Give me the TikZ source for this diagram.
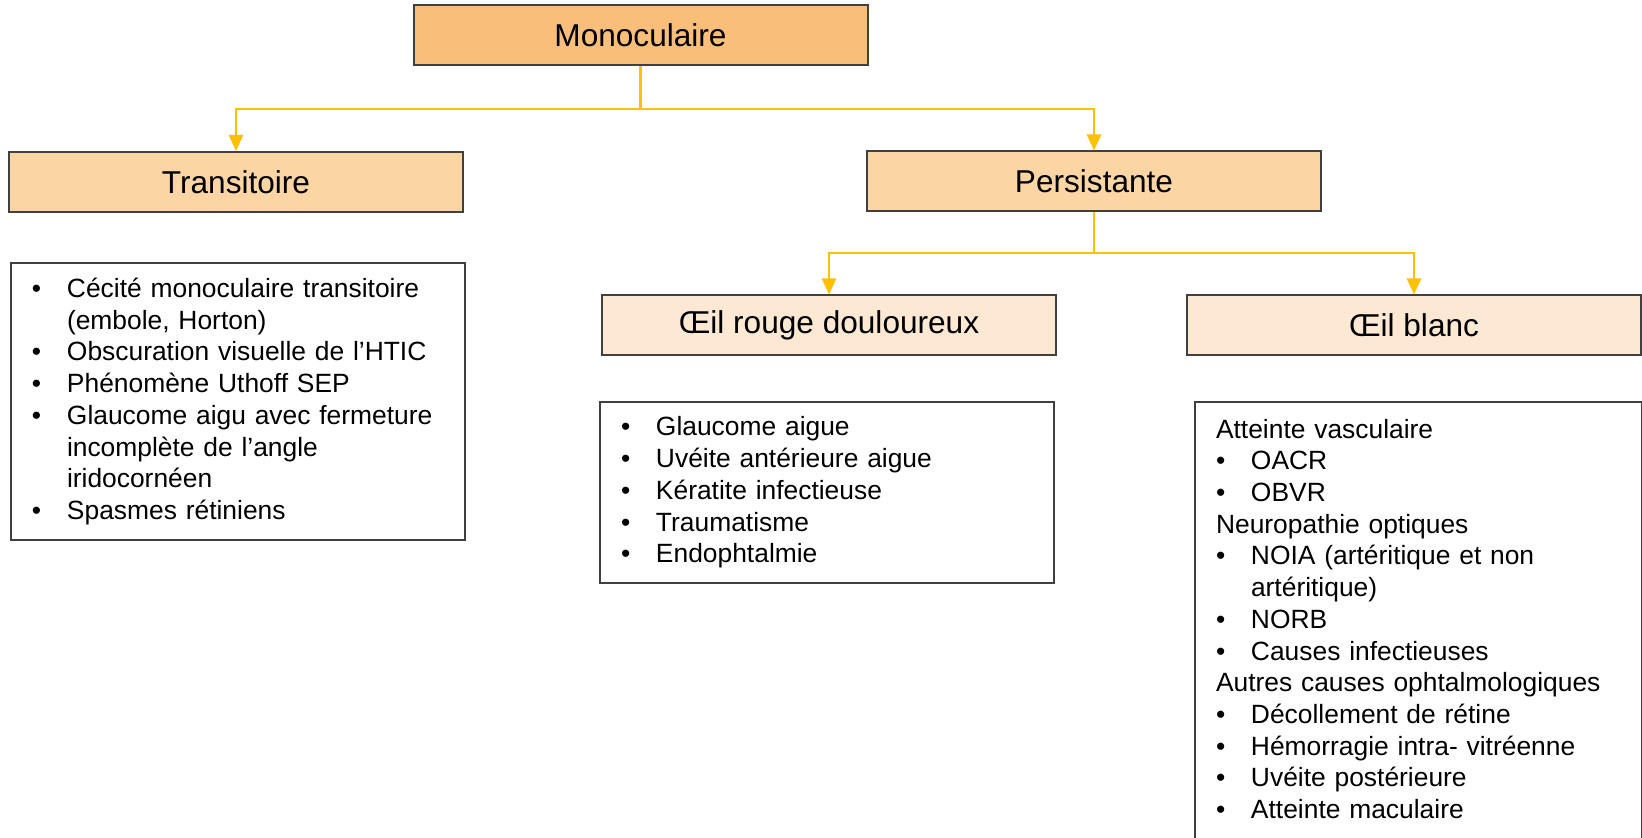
\documentclass[tikz,border=0pt]{standalone}
\usepackage{fontspec}
\setmainfont{Liberation Sans}
\usepackage{tikz}
\usetikzlibrary{positioning,arrows.meta}

\definecolor{monofond}{RGB}{249,191,122}
\definecolor{titrefond}{RGB}{252,213,165}
\definecolor{oeilfond}{RGB}{253,233,211}
\definecolor{lienjaune}{RGB}{255,192,0}
\definecolor{bord}{RGB}{64,64,64}

\newcommand{\puce}{\makebox[17.5pt][l]{\textbullet}}
\newcommand{\suite}{\hspace*{17.5pt}}

\begin{document}
\begin{tikzpicture}[x=0.5pt, y=-0.5pt,
  titre/.style={draw=bord, line width=1pt, minimum width=227pt, minimum height=30pt, inner sep=0pt, font=\fontsize{15.8}{19}\selectfont},
  liste/.style={draw=bord, line width=1pt, fill=white, anchor=north west, align=left, inner xsep=10.5pt, inner ysep=0pt, font=\fontsize{13.2}{15.85}\selectfont},
  lien/.style={draw=lienjaune, line width=1.25pt},
  fleche/.style={lien, -{Triangle[width=7pt,length=8pt]}}]

\path[use as bounding box, clip] (0,0) rectangle (1642,838);

% Cases de titre
\node[titre, fill=monofond] (mono) at (640.5,35) {Monoculaire};
\foreach \nom/\x/\y/\coul/\texte in {
  trans/236/182/titrefond/Transitoire,
  pers/1094/181.5/titrefond/Persistante,
  rouge/829/325.5/oeilfond/Œil rouge douloureux,
  blanc/1414/325.5/oeilfond/Œil blanc} {
  \node[titre, fill=\coul] (\nom) at (\x,\y) {\texte};
}

% Listes des causes
\node[liste, text width=206pt, minimum height=138.5pt] (liste1) at (10,262) {%
\puce Cécité monoculaire transitoire\\
\suite (embole, Horton)\\
\puce Obscuration visuelle de l’HTIC\\
\puce Phénomène Uthoff SEP\\
\puce Glaucome aigu avec fermeture\\
\suite incomplète de l’angle\\
\suite iridocornéen\\
\puce Spasmes rétiniens};

\node[liste, text width=206pt, minimum height=90.5pt] (liste2) at (599,401) {%
\puce Glaucome aigue\\
\puce Uvéite antérieure aigue\\
\puce Kératite infectieuse\\
\puce Traumatisme\\
\puce Endophtalmie};

\node[liste, text width=202.5pt, inner ysep=8.5pt] (liste3) at (1194,401) {%
Atteinte vasculaire\\
\puce OACR\\
\puce OBVR\\
Neuropathie optiques\\
\puce NOIA (artéritique et non\\
\suite artéritique)\\
\puce NORB\\
\puce Causes infectieuses\\
Autres causes ophtalmologiques\\
\puce Décollement de rétine\\
\puce Hémorragie intra- vitréenne\\
\puce Uvéite postérieure\\
\puce Atteinte maculaire\\
\mbox{}};

% Liaisons
\coordinate[below=21.5pt of mono] (fourche1);
\draw[lien] (mono) -- (fourche1);
\draw[fleche] (fourche1) -| (trans.north);
\draw[fleche] (fourche1) -| (pers.north);

\coordinate[below=20.35pt of pers] (fourche2);
\draw[lien] (pers) -- (fourche2);
\draw[fleche] (fourche2) -| (rouge.north);
\draw[fleche] (fourche2) -| (blanc.north);
\end{tikzpicture}
\end{document}
